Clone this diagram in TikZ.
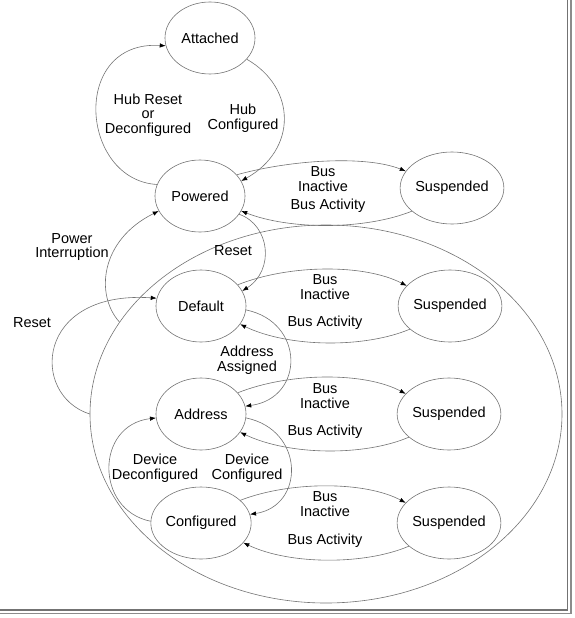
\documentclass[tikz,border=0pt]{standalone}
\usepackage{fontspec}
\setmainfont{Liberation Sans}
\usetikzlibrary{shapes.geometric}
\usetikzlibrary{arrows.meta}

\begin{document}
\begin{tikzpicture}[x=1pt,y=-1pt,
        state/.style={ellipse,draw=black!55,line width=0.6pt,
            minimum width=90pt,minimum height=72pt,inner sep=0pt,
            font=\fontsize{14.5}{14.5}\selectfont},
        trans/.style={draw=black!55,line width=0.6pt,
            -{Latex[length=6pt,width=4.5pt,black]}},
        lbl/.style={align=center,inner sep=0pt,
            font=\fontsize{14.5}{14.5}\selectfont}]
        \useasboundingbox (0,0) rectangle (575,618);

        % Frame
        \draw [black!55,line width=1.2pt] (567.5,0) -- (567.5,610) -- (0,610);
        \draw [black!45,line width=1.2pt] (571,0) -- (571,613.5) -- (0,613.5);

        % Device super state
        \node [ellipse,draw=black!55,line width=0.6pt,minimum width=472pt,
            minimum height=378pt] (device) at (326,414) {};

        % States
        \node [state] (attached)   at (210,38)  {Attached};
        \node [state] (powered)    at (200,196) {Powered};
        \node [state] (susp1)      at (452,188) {Suspended};
        \node [state] (default)    at (201,306) {Default};
        \node [state] (susp2)      at (450,306) {Suspended};
        \node [state] (address)    at (201,414) {Address};
        \node [state] (susp3)      at (449,414) {Suspended};
        \node [state] (configured) at (201,523) {Configured};
        \node [state] (susp4)      at (449,523) {Suspended};

        % Attached <-> Powered
        \draw [trans] (powered.165) .. controls (80,180) and (70,40)
            .. (attached.190);
        \draw [trans] (attached.-30) .. controls (297,88) and (297,150)
            .. (powered.20);
        \node [lbl] (hubreset) at (148,115) {Hub Reset\\or\\Deconfigured};
        \node [lbl] (hubconf) at (243,118) {Hub\\Configured};

        % Powered <-> Suspended
        \draw [trans] (powered.30) .. controls (290,160) and (365,155)
            .. (susp1.160);
        \draw [trans] (susp1.-150) .. controls (365,230) and (290,230)
            .. (powered.-20);
        \node [lbl] (inact1) at (323,179) {Bus\\Inactive};
        \node [lbl] (activ1) at (328,206) {Bus Activity};

        % Powered <-> Default
        \draw [trans] (powered.-25) .. controls (270,225) and (275,270)
            .. (default.20);
        \draw [trans] (device.156) .. controls (95,295) and (100,240)
            .. (powered.-160);
        \draw [trans] (device.180) .. controls (30,395) and (35,290)
            .. (default.170);
        \node [lbl] (reset1) at (233,251) {Reset};
        \node [lbl] (powint) at (72,247) {Power\\Interruption};
        \node [lbl] (reset2) at (32,323) {Reset};

        % Default <-> Suspended
        \draw [trans] (default.30) .. controls (290,264) and (365,264)
            .. (susp2.155);
        \draw [trans] (susp2.-150) .. controls (365,348) and (290,348)
            .. (default.-25);
        \node [lbl] (inact2) at (325,287) {Bus\\Inactive};
        \node [lbl] (activ2) at (325,323) {Bus Activity};

        % Default -> Address
        \draw [trans] (default.-5) .. controls (305,322) and (305,398)
            .. (address.10);
        \node [lbl] (addrass) at (247,360) {Address\\Assigned};

        % Address <-> Suspended
        \draw [trans] (address.30) .. controls (290,372) and (365,372)
            .. (susp3.155);
        \draw [trans] (susp3.-150) .. controls (365,456) and (290,456)
            .. (address.-25);
        \node [lbl] (inact3) at (325,396) {Bus\\Inactive};
        \node [lbl] (activ3) at (325,432) {Bus Activity};

        % Address <-> Configured
        \draw [trans] (address.-5) .. controls (305,430) and (305,506)
            .. (configured.10);
        \draw [trans] (configured.178) .. controls (95,510) and (95,425)
            .. (address.185);
        \node [lbl] (devdeconf) at (155,468) {Device\\Deconfigured};
        \node [lbl] (devconf) at (247,468) {Device\\Configured};

        % Configured <-> Suspended
        \draw [trans] (configured.30) .. controls (290,481) and (365,481)
            .. (susp4.155);
        \draw [trans] (susp4.-150) .. controls (365,565) and (290,565)
            .. (configured.-25);
        \node [lbl] (inact4) at (325,504) {Bus\\Inactive};
        \node [lbl] (activ4) at (325,541) {Bus Activity};
\end{tikzpicture}
\end{document}
